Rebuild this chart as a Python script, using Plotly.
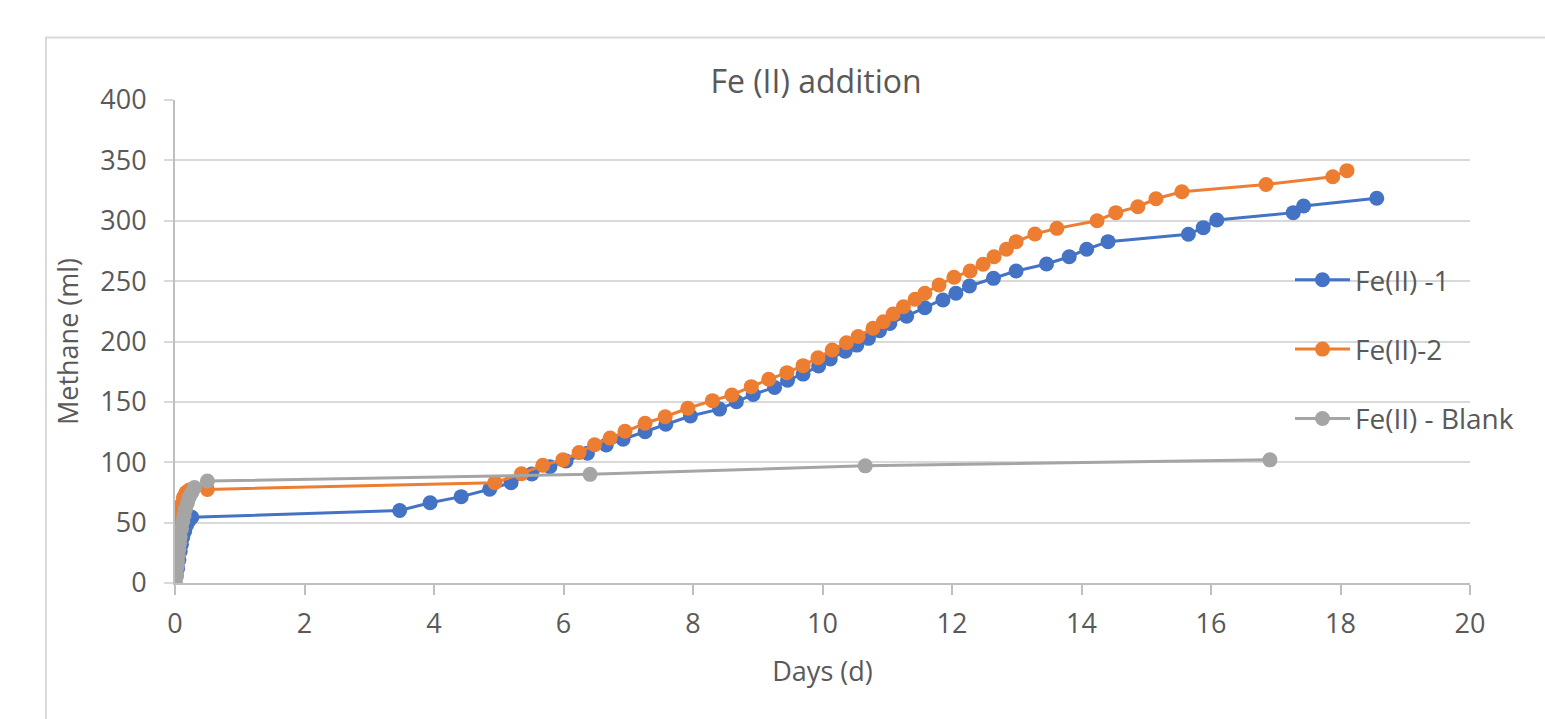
import plotly.graph_objects as go

# ---------------- data ----------------
fe1_days = [0, 0.02, 0.04, 0.06, 0.08, 0.10, 0.12, 0.15, 0.18, 0.22, 0.26,
            3.47, 3.94, 4.42, 4.86, 5.19, 5.51, 5.79, 6.04, 6.37, 6.66, 6.92,
            7.26, 7.58, 7.96, 8.41, 8.67, 8.93, 9.26, 9.46, 9.70, 9.94, 10.12,
            10.35, 10.53, 10.71, 10.88, 11.04, 11.30, 11.58, 11.86, 12.06,
            12.27, 12.64, 12.99, 13.46, 13.81, 14.08, 14.41, 15.65, 15.88,
            16.09, 17.27, 17.43, 18.56]
fe1_methane = [0, 6, 12, 19, 26, 32, 38, 43, 48, 52, 54.5,
               60, 66.5, 71.5, 77.6, 83.1, 90.3, 96.3, 101, 107.4, 114.3, 119,
               125.3, 131.5, 138.3, 144, 150.2, 156.2, 162, 168, 173, 179.7, 185.5,
               192, 197, 202.6, 209, 215, 221, 228, 234.4, 240,
               246, 252.3, 258.4, 264.2, 270.2, 276.4, 282.7, 288.8, 294.3,
               300.6, 306.7, 312.2, 318.6]

fe2_days = [0, 0.01, 0.02, 0.03, 0.04, 0.05, 0.06, 0.08, 0.10, 0.13, 0.17, 0.22,
            0.50, 4.94, 5.35, 5.68, 5.99, 6.24, 6.48, 6.72, 6.95, 7.26, 7.57,
            7.92, 8.30, 8.60, 8.90, 9.17, 9.45, 9.70, 9.93, 10.15, 10.37, 10.55,
            10.78, 10.94, 11.09, 11.25, 11.43, 11.58, 11.80, 12.03, 12.28, 12.48,
            12.65, 12.84, 12.99, 13.28, 13.62, 14.24, 14.53, 14.87, 15.15, 15.55,
            16.85, 17.88, 18.10]
fe2_methane = [0, 8, 17, 26, 35, 43, 50, 58, 65, 71, 75, 77,
               77.5, 83.1, 90.5, 97.5, 102, 108, 114.5, 120, 125.7, 132.3, 137.7,
               144.7, 151, 155.7, 162.6, 168.7, 174.2, 180, 186.6, 193, 199, 204.2,
               211, 216.4, 222.8, 228.8, 235, 240, 246.8, 253.2, 258.4, 264,
               270.2, 276.4, 282.7, 289, 293.7, 300, 306.7, 311.6, 318.2, 324,
               330, 336.5, 341.5]

blank_days = [0, 0.01, 0.02, 0.03, 0.04, 0.05, 0.06, 0.07, 0.08, 0.10, 0.12,
              0.14, 0.16, 0.19, 0.22, 0.26, 0.30, 0.50, 6.41, 10.66, 16.91]
blank_methane = [0, 4, 8, 13, 18, 23, 28, 33, 38, 45, 51,
                 56, 61, 66, 71, 75, 79, 84.5, 90, 97, 102]

series_names = ["Fe(II) -1", "Fe(II)-2", "Fe(II) - Blank"]
series_colors = ["#4472C4", "#ED7D31", "#A5A5A5"]

x_ticks = [0, 2, 4, 6, 8, 10, 12, 14, 16, 18, 20]
y_ticks = [0, 50, 100, 150, 200, 250, 300, 350, 400]

# ---------------- layout geometry ----------------
W, H = 1545, 719
L, R, T, B = 175, 1470, 100, 583          # plot area in pixels
PW, PH = R - L, B - T


def px_x(px):
    return (px - L) / PW


def px_y(py):
    return (B - py) / PH


TEXT = "#595959"
FONT = "Open Sans"

fig = go.Figure()
for i, (xs, ys) in enumerate([(fe1_days, fe1_methane),
                              (fe2_days, fe2_methane),
                              (blank_days, blank_methane)]):
    fig.add_trace(go.Scatter(
        x=xs, y=ys, mode="lines+markers", name=series_names[i],
        legendgroup=series_names[i],
        line=dict(color=series_colors[i], width=3),
        marker=dict(color=series_colors[i], size=15),
    ))

fig.update_layout(
    width=W, height=H,
    margin=dict(l=L, r=W - R, t=T, b=H - B, autoexpand=False),
    paper_bgcolor="white", plot_bgcolor="white",
    font=dict(family=FONT, color=TEXT, size=28),
    title=dict(text="Fe (II) addition", x=px_x(816), xref="paper", xanchor="center",
               y=1 - 82 / H, yref="container", yanchor="middle",
               font=dict(family=FONT, size=32, color=TEXT)),
    xaxis=dict(range=[0, 20], tickvals=x_ticks, showgrid=False,
               showline=True, linecolor="#BFBFBF", linewidth=2,
               ticks="outside", ticklen=10, tickcolor="#BFBFBF", tickwidth=2,
               zeroline=False, ticklabelstandoff=6,
               tickfont=dict(size=27, color=TEXT),
               title=dict(text="Days (d)", standoff=22, font=dict(size=27, color=TEXT))),
    yaxis=dict(range=[0, 400], tickvals=y_ticks, showgrid=True,
               gridcolor="#D9D9D9", gridwidth=2,
               showline=True, linecolor="#BFBFBF", linewidth=2,
               ticks="outside", ticklen=9, tickcolor="#D9D9D9", tickwidth=2,
               zeroline=False, ticklabelstandoff=12,
               tickfont=dict(size=27, color=TEXT),
               title=dict(text="Methane (ml)", standoff=14, font=dict(size=27, color=TEXT))),
    legend=dict(x=px_x(1290), y=px_y(255), xanchor="left", yanchor="top",
                bgcolor="rgba(0,0,0,0)", itemwidth=55, tracegroupgap=30,
                font=dict(size=28, color=TEXT)),
    shapes=[dict(type="rect", xref="paper", yref="paper",
                 x0=px_x(46), x1=px_x(1620), y0=px_y(800), y1=px_y(37.5),
                 line=dict(color="#D9D9D9", width=2), fillcolor="rgba(0,0,0,0)",
                 layer="below")],
)

fig.write_html("out.html")
